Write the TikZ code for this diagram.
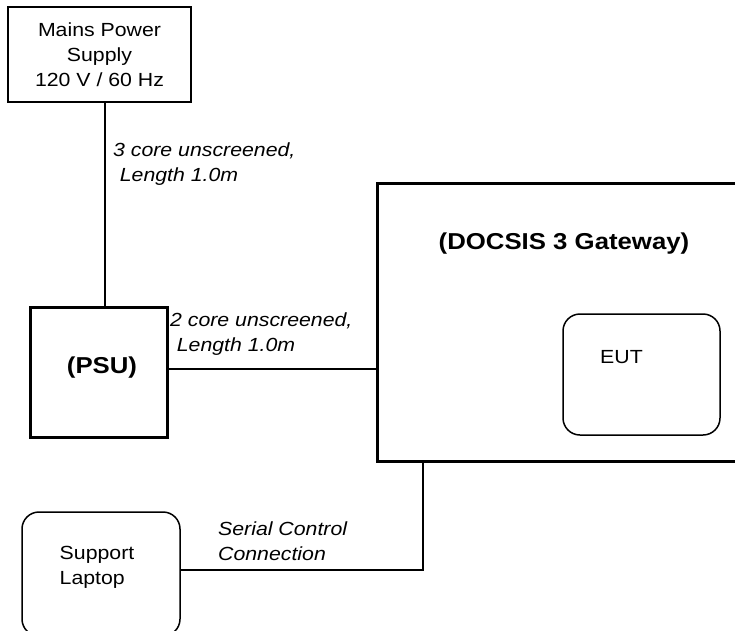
\documentclass[tikz,border=0pt]{standalone}
\usepackage{fontspec}
\setmainfont{Liberation Sans}[FakeStretch=1.12]
\begin{document}
\begin{tikzpicture}[x=1pt,y=-1pt,
  txt/.style={font=\fontsize{19}{25}\selectfont, inner sep=0pt},
  boldtxt/.style={font=\fontsize{23}{27}\selectfont\bfseries, inner sep=0pt},
  lbl/.style={font=\fontsize{19}{25}\selectfont\itshape, inner sep=0pt, align=left, anchor=north west},
  thinbox/.style={draw, line width=1.5pt, inner sep=0pt},
  thickbox/.style={draw, line width=3pt, inner sep=0pt},
  roundbox/.style={draw, line width=1.5pt, rounded corners=17pt, inner sep=0pt},
  wire/.style={line width=1.3pt}]
\useasboundingbox (0,0) rectangle (735,630);
\clip (0,0) rectangle (735,630);

% boxes
\node[thinbox, txt, align=center, minimum width=183pt, minimum height=95pt] (mains) at (99.5,54.5)
  {Mains Power\\Supply\\120 V / 60 Hz};
\node[thickbox, minimum width=137pt, minimum height=130pt] (psu) at (98.5,372) {};
\node[boldtxt] (psut) at (102,368) {(PSU)};
\node[thickbox, minimum width=368pt, minimum height=278pt] (gw) at (561,322) {};
\node[boldtxt] (gwt) at (564,244) {(DOCSIS 3 Gateway)};
\node[roundbox, minimum width=157pt, minimum height=121pt] (eut) at (641.5,374.5) {};
\node[txt, anchor=west] (eutt) at (600,357) {EUT};
\node[roundbox, minimum width=158pt, minimum height=124pt] (laptop) at (101,574) {};
\node[txt, align=left] (laptopt) at (97,567) {Support\\Laptop};

% connectors
\coordinate (mdrop) at (105,0);
\draw[wire] (mains.south -| mdrop) -- (psu.north -| mdrop);
\coordinate (prow) at (0,369);
\draw[wire] (psu.east |- prow) -- (gw.west |- prow);
\coordinate (scorner) at (423,570);
\draw[wire] (gw.south -| scorner) -- (scorner) -- (laptop.east |- scorner);

% labels
\node[lbl] (l1) at (113,143) {3 core unscreened,\\\hspace{0.35em}Length 1.0m};
\node[lbl] (l2) at (170,313) {2 core unscreened,\\\hspace{0.35em}Length 1.0m};
\node[lbl] (l3) at (218,522) {Serial Control\\Connection};
\end{tikzpicture}
\end{document}
